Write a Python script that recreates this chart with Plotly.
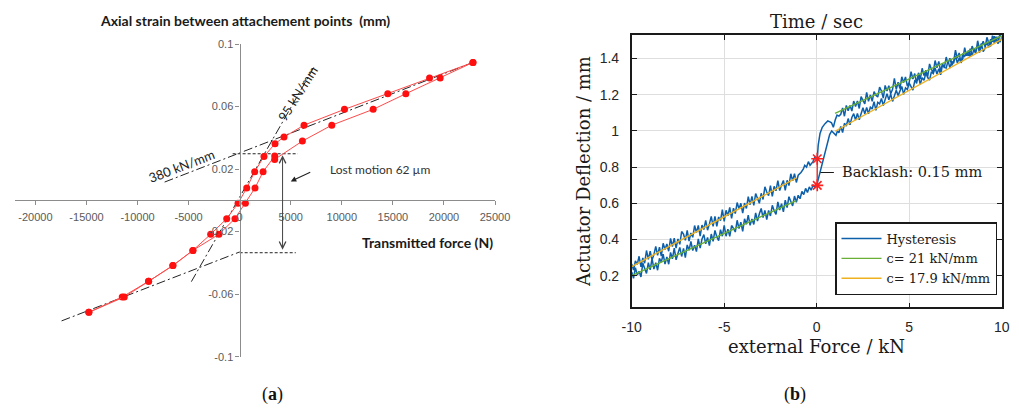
import plotly.graph_objects as go

W, H = 1019, 408

# ---------------- (a) data ----------------
branch1_force = [-14770, -11500, -8920, -6540, -4580, -2840, -1270, -160, 690, 1470, 2380, 3460, 4340, 6300, 10260, 14500, 18590, 22840]
branch1_strain = [-0.0716, -0.0618, -0.0518, -0.0417, -0.0320, -0.0217, -0.0117, -0.0019, 0.0079, 0.0183, 0.0281, 0.0362, 0.0405, 0.0481, 0.0582, 0.0682, 0.0782, 0.0882]
branch2_force = [-14770, -11300, -8920, -6540, -4580, -2030, -460, 560, 1500, 2290, 3430, 3430, 6140, 9020, 13070, 16270, 19630, 22840]
branch2_strain = [-0.0716, -0.0618, -0.0518, -0.0417, -0.0320, -0.0217, -0.0117, -0.0019, 0.0079, 0.0183, 0.0283, 0.0262, 0.0379, 0.0481, 0.0582, 0.0682, 0.0782, 0.0882]

fit380_upper_force = [-7350, 22840]
fit380_upper_strain = [0.0117, 0.0882]
fit380_lower_force = [-17440, 0]
fit380_lower_strain = [-0.0771, -0.0330]
fit95_force = [-4730, 7250]
fit95_strain = [-0.052, 0.085]
lost_top_force = [-690, 5690]
lost_top_strain = [0.0298, 0.0298]
lost_bot_force = [0, 5490]
lost_bot_strain = [-0.0335, -0.0335]
lost_arrow_force = 4200

a_xticks = [-20000, -15000, -10000, -5000, 0, 5000, 10000, 15000, 20000, 25000]
a_xticklabels = ["-20000", "-15000", "-10000", "-5000", "0", "5000", "10000", "15000", "20000", "25000"]
a_yticks = [-0.1, -0.06, -0.02, 0.02, 0.06, 0.1]
a_yticklabels = ["-0.1", "-0.06", "-0.02", "0.02", "0.06", "0.1"]

# ---------------- (b) data ----------------
# lower-left branch (force rising, around c = 21 kN/mm fit)
ll_force = [-10.0, -9.9, -9.8, -9.7, -9.6, -9.5, -9.4, -9.3, -9.2, -9.1, -9.0, -8.9, -8.8, -8.7, -8.6, -8.5,
            -8.4, -8.3, -8.2, -8.1, -8.0, -7.9, -7.8, -7.7, -7.6, -7.5, -7.4, -7.3, -7.2, -7.1, -7.0, -6.9,
            -6.8, -6.7, -6.6, -6.5, -6.4, -6.3, -6.2, -6.1, -6.0, -5.9, -5.8, -5.7, -5.6, -5.5, -5.4, -5.3,
            -5.2, -5.1, -5.0, -4.9, -4.8, -4.7, -4.6, -4.5, -4.4, -4.3, -4.2, -4.1, -4.0, -3.9, -3.8, -3.7,
            -3.6, -3.5, -3.4, -3.3, -3.2, -3.1, -3.0, -2.9, -2.8, -2.7, -2.6, -2.5, -2.4, -2.3, -2.2, -2.1,
            -2.0, -1.9, -1.8, -1.7, -1.6, -1.5, -1.4, -1.3, -1.2, -1.1, -1.0, -0.9, -0.8, -0.7, -0.6, -0.5,
            -0.4, -0.3, -0.2, -0.1, 0.0]
ll_defl = [0.220, 0.185, 0.244, 0.204, 0.224, 0.193, 0.268, 0.243, 0.212, 0.272, 0.232, 0.296, 0.236, 0.271, 0.230, 0.295,
           0.275, 0.319, 0.264, 0.304, 0.263, 0.328, 0.293, 0.352, 0.287, 0.322, 0.356, 0.306, 0.351, 0.300, 0.370, 0.340,
           0.389, 0.339, 0.368, 0.333, 0.403, 0.352, 0.402, 0.427, 0.376, 0.411, 0.366, 0.430, 0.390, 0.450, 0.414, 0.394,
           0.454, 0.418, 0.478, 0.418, 0.457, 0.417, 0.477, 0.461, 0.441, 0.506, 0.460, 0.495, 0.445, 0.514, 0.484, 0.534,
           0.478, 0.513, 0.483, 0.547, 0.502, 0.542, 0.571, 0.521, 0.561, 0.510, 0.560, 0.530, 0.589, 0.559, 0.539, 0.608,
           0.563, 0.598, 0.552, 0.617, 0.576, 0.636, 0.606, 0.585, 0.640, 0.605, 0.644, 0.625, 0.665, 0.648, 0.682, 0.660,
           0.690, 0.672, 0.700, 0.688, 0.699]
# jump through the backlash while force rises
jump_up_force = [0.1, 0.2, 0.3, 0.4, 0.5, 0.6, 0.7, 0.81, 0.95, 1.04, 1.12]
jump_up_defl = [0.740, 0.790, 0.830, 0.870, 0.910, 0.950, 0.980, 1.000, 0.985, 0.976, 1.000]
# lower-right branch (around c = 17.9 kN/mm fit)
lr_force = [1.2, 1.3, 1.4, 1.5, 1.6, 1.7, 1.8, 1.9, 2.0, 2.1, 2.2, 2.3, 2.4, 2.5, 2.6, 2.7, 2.8, 2.9, 3.0, 3.1,
            3.2, 3.3, 3.4, 3.5, 3.6, 3.7, 3.8, 3.9, 4.0, 4.1, 4.2, 4.3, 4.4, 4.5, 4.6, 4.7, 4.8, 4.9, 5.0, 5.1,
            5.2, 5.3, 5.4, 5.5, 5.6, 5.7, 5.8, 5.9, 6.0, 6.1, 6.2, 6.3, 6.4, 6.5, 6.6, 6.7, 6.8, 6.9, 7.0, 7.1,
            7.2, 7.3, 7.4, 7.5, 7.6, 7.7, 7.8, 7.9, 8.0, 8.1, 8.2, 8.3, 8.4, 8.5, 8.6, 8.7, 8.8, 8.9, 9.0, 9.1,
            9.2, 9.3, 9.4, 9.5, 9.6, 9.7, 9.8, 9.9, 10.0]
lr_defl = [0.990, 1.025, 0.991, 1.042, 1.027, 1.068, 1.034, 1.074, 1.095, 1.060, 1.096, 1.062, 1.097, 1.128, 1.094, 1.129,
           1.095, 1.131, 1.121, 1.162, 1.113, 1.158, 1.149, 1.179, 1.140, 1.176, 1.206, 1.172, 1.203, 1.163, 1.199, 1.225,
           1.195, 1.226, 1.246, 1.202, 1.238, 1.228, 1.264, 1.245, 1.225, 1.276, 1.267, 1.302, 1.258, 1.294, 1.279, 1.320,
           1.295, 1.281, 1.327, 1.317, 1.348, 1.314, 1.344, 1.310, 1.366, 1.351, 1.347, 1.387, 1.348, 1.384, 1.374, 1.415,
           1.376, 1.401, 1.377, 1.428, 1.413, 1.434, 1.415, 1.455, 1.416, 1.451, 1.442, 1.473, 1.433, 1.469, 1.495, 1.465,
           1.491, 1.462, 1.507, 1.493, 1.523, 1.494, 1.520, 1.490, 1.516]
# upper-right branch (force falling, around c = 21 kN/mm fit)
ur_force = [10.0, 9.9, 9.8, 9.7, 9.6, 9.5, 9.4, 9.3, 9.2, 9.1, 9.0, 8.9, 8.8, 8.7, 8.6, 8.5, 8.4, 8.3, 8.2, 8.1,
            8.0, 7.9, 7.8, 7.7, 7.6, 7.5, 7.4, 7.3, 7.2, 7.1, 7.0, 6.9, 6.8, 6.7, 6.6, 6.5, 6.4, 6.3, 6.2, 6.1,
            6.0, 5.9, 5.8, 5.7, 5.6, 5.5, 5.4, 5.3, 5.2, 5.1, 5.0, 4.9, 4.8, 4.7, 4.6, 4.5, 4.4, 4.3, 4.2, 4.1,
            4.0, 3.9, 3.8, 3.7, 3.6, 3.5, 3.4, 3.3, 3.2, 3.1, 3.0, 2.9, 2.8, 2.7, 2.6, 2.5, 2.4, 2.3, 2.2, 2.1,
            2.0, 1.9, 1.8, 1.7, 1.6, 1.5, 1.4, 1.3, 1.2]
ur_defl = [1.515, 1.535, 1.481, 1.521, 1.486, 1.526, 1.467, 1.487, 1.517, 1.457, 1.438, 1.483, 1.453, 1.498, 1.429, 1.444,
           1.469, 1.409, 1.445, 1.415, 1.460, 1.400, 1.376, 1.431, 1.401, 1.446, 1.382, 1.362, 1.402, 1.372, 1.408, 1.348,
           1.373, 1.328, 1.384, 1.349, 1.389, 1.324, 1.340, 1.370, 1.300, 1.335, 1.306, 1.346, 1.286, 1.321, 1.262, 1.317,
           1.287, 1.327, 1.268, 1.248, 1.298, 1.268, 1.299, 1.234, 1.269, 1.229, 1.290, 1.230, 1.205, 1.250, 1.221, 1.251,
           1.181, 1.221, 1.242, 1.187, 1.197, 1.217, 1.163, 1.198, 1.163, 1.213, 1.149, 1.169, 1.189, 1.124, 1.165, 1.135,
           1.165, 1.110, 1.141, 1.111, 1.141, 1.081, 1.127, 1.092, 1.082]
# jump back through the backlash while force falls
jump_down_force = [1.1, 1.0, 0.9, 0.8, 0.72, 0.6, 0.45, 0.3, 0.18, 0.08, 0.03, -0.1, -0.2, -0.36, -0.45, -0.55, -0.65, -0.72, -0.85, -0.92]
jump_down_defl = [1.087, 1.060, 1.020, 1.045, 1.050, 1.055, 1.040, 1.020, 0.986, 0.920, 0.846, 0.855, 0.830, 0.810, 0.830, 0.800, 0.810, 0.790, 0.770, 0.760]
# upper-left branch (around c = 17.9 kN/mm fit)
ul_force = [-1.0, -1.1, -1.2, -1.3, -1.4, -1.5, -1.6, -1.7, -1.8, -1.9, -2.0, -2.1, -2.2, -2.3, -2.4, -2.5,
            -2.6, -2.7, -2.8, -2.9, -3.0, -3.1, -3.2, -3.3, -3.4, -3.5, -3.6, -3.7, -3.8, -3.9, -4.0, -4.1,
            -4.2, -4.3, -4.4, -4.5, -4.6, -4.7, -4.8, -4.9, -5.0, -5.1, -5.2, -5.3, -5.4, -5.5, -5.6, -5.7,
            -5.8, -5.9, -6.0, -6.1, -6.2, -6.3, -6.4, -6.5, -6.6, -6.7, -6.8, -6.9, -7.0, -7.1, -7.2, -7.3,
            -7.4, -7.5, -7.6, -7.7, -7.8, -7.9, -8.0, -8.1, -8.2, -8.3, -8.4, -8.5, -8.6, -8.7, -8.8, -8.9,
            -9.0, -9.1, -9.2, -9.3, -9.4, -9.5, -9.6, -9.7, -9.8, -9.9, -10.0]
ul_defl = [0.755, 0.715, 0.764, 0.724, 0.763, 0.698, 0.727, 0.672, 0.726, 0.701, 0.670, 0.725, 0.669, 0.694, 0.638, 0.698,
           0.642, 0.662, 0.691, 0.621, 0.655, 0.600, 0.629, 0.654, 0.588, 0.638, 0.592, 0.637, 0.571, 0.601, 0.545, 0.600,
           0.569, 0.604, 0.543, 0.573, 0.517, 0.577, 0.531, 0.561, 0.500, 0.565, 0.504, 0.524, 0.473, 0.528, 0.472, 0.527,
           0.486, 0.451, 0.505, 0.455, 0.479, 0.419, 0.478, 0.438, 0.477, 0.412, 0.436, 0.391, 0.450, 0.395, 0.429, 0.444,
           0.373, 0.403, 0.352, 0.407, 0.361, 0.406, 0.335, 0.375, 0.344, 0.379, 0.308, 0.358, 0.312, 0.362, 0.316, 0.286,
           0.335, 0.290, 0.339, 0.269, 0.298, 0.248, 0.307, 0.262, 0.281, 0.231, 0.265]

fit21_force = [-10, -1.1, None, 0.99, 10]
fit21_defl = [0.200, 0.615, None, 1.097, 1.525]
fit179_force = [-10, -1.1, None, 0.99, 10]
fit179_defl = [0.250, 0.740, None, 0.998, 1.506]
backlash_force = [0.03, 0.03]
backlash_defl = [0.846, 0.699]

b_xticks = [-10, -5, 0, 5, 10]
b_xticklabels = ["-10", "-5", "0", "5", "10"]
b_yticks = [0.2, 0.4, 0.6, 0.8, 1.0, 1.2, 1.4]
b_yticklabels = ["0.2", "0.4", "0.6", "0.8", "1", "1.2", "1.4"]

hyst_force = ll_force + jump_up_force + lr_force + ur_force + jump_down_force + ul_force
hyst_defl = ll_defl + jump_up_defl + lr_defl + ur_defl + jump_down_defl + ul_defl

# ---------------- layout geometry ----------------
def px_x(p):
    return p / W

def px_y(p):
    return 1 - p / H

a_xrange = [-22000, 25000]
a_yrange = [-0.1, 0.1]
a_xdom = [px_x(15), px_x(495)]
a_ydom = [px_y(356.7), px_y(44)]
b_xrange = [-10, 10]
b_yrange = [0.025, 1.53]
b_xdom = [px_x(631.7), px_x(1001.7)]
b_ydom = [px_y(307.3), px_y(35)]

a_xaxis_pos = a_ydom[0] + (0 - a_yrange[0]) / (a_yrange[1] - a_yrange[0]) * (a_ydom[1] - a_ydom[0])
a_yaxis_pos = a_xdom[0] + (0 - a_xrange[0]) / (a_xrange[1] - a_xrange[0]) * (a_xdom[1] - a_xdom[0])

RED_LINE = "#ff4a4a"
RED = "#ff1010"
DASHDOT = "9px,3px,2px,3px"

fig = go.Figure()

# (a) traces
for fx, fy in [(fit380_upper_force, fit380_upper_strain), (fit380_lower_force, fit380_lower_strain),
               (fit95_force, fit95_strain)]:
    fig.add_trace(go.Scatter(x=fx, y=fy, mode="lines", line=dict(color="#222222", width=1, dash=DASHDOT),
                             xaxis="x", yaxis="y", showlegend=False))
for fx, fy in [(lost_top_force, lost_top_strain), (lost_bot_force, lost_bot_strain)]:
    fig.add_trace(go.Scatter(x=fx, y=fy, mode="lines", line=dict(color="#222222", width=1, dash="3px,2px"),
                             xaxis="x", yaxis="y", showlegend=False))
for fx, fy in [(branch1_force, branch1_strain), (branch2_force, branch2_strain)]:
    fig.add_trace(go.Scatter(x=fx, y=fy, mode="lines+markers",
                             line=dict(color=RED_LINE, width=1),
                             marker=dict(color=RED, size=7, line=dict(width=0)),
                             xaxis="x", yaxis="y", showlegend=False, cliponaxis=False))

# (b) traces
fig.add_trace(go.Scatter(x=hyst_force, y=hyst_defl, mode="lines", name="Hysteresis",
                         line=dict(color="#0c5fa8", width=1.5), xaxis="x2", yaxis="y2"))
fig.add_trace(go.Scatter(x=fit21_force, y=fit21_defl, mode="lines", name="c= 21 kN/mm",
                         line=dict(color="#6aaf35", width=1.4), xaxis="x2", yaxis="y2"))
fig.add_trace(go.Scatter(x=fit179_force, y=fit179_defl, mode="lines", name="c= 17.9 kN/mm",
                         line=dict(color="#edb120", width=1.4), xaxis="x2", yaxis="y2"))
fig.add_trace(go.Scatter(x=backlash_force, y=backlash_defl, mode="lines+markers",
                         line=dict(color="#ff2020", width=1.3),
                         marker=dict(symbol="asterisk", size=10, color="#ff2020", line=dict(color="#ff2020", width=1.6)),
                         xaxis="x2", yaxis="y2", showlegend=False, cliponaxis=False))

a_tickfont = dict(family="Liberation Sans Narrow, Liberation Sans, Arial", size=11, color="#5a5a5a")
b_tickfont = dict(family="Liberation Sans, Arial", size=14, color="#262626")
serif = "Liberation Serif, Times New Roman, serif"
latex = "DejaVu Serif, serif"

fig.update_layout(
    width=W, height=H,
    margin=dict(l=0, r=0, t=0, b=0, autoexpand=False),
    paper_bgcolor="white", plot_bgcolor="rgba(0,0,0,0)",
    xaxis=dict(domain=a_xdom, range=a_xrange, anchor="free", position=a_xaxis_pos, automargin=False,
               showline=True, linecolor="#8c8c8c", linewidth=1.2, showgrid=False, zeroline=False,
               tickvals=a_xticks, ticktext=a_xticklabels, ticks="outside", ticklen=4, tickcolor="#8c8c8c",
               tickfont=a_tickfont, ticklabelstandoff=2),
    yaxis=dict(domain=a_ydom, range=a_yrange, anchor="free", position=a_yaxis_pos, automargin=False,
               showline=True, linecolor="#8c8c8c", linewidth=1.4, showgrid=False, zeroline=False,
               tickvals=a_yticks, ticktext=a_yticklabels, ticks="outside", ticklen=4, tickcolor="#8c8c8c",
               tickfont=a_tickfont),
    xaxis2=dict(domain=b_xdom, range=b_xrange, anchor="y2", automargin=False,
                showline=True, linecolor="#1a1a1a", linewidth=1.6, mirror="allticks",
                showgrid=True, gridcolor="#dedede", gridwidth=1, zeroline=False,
                tickvals=b_xticks, ticktext=b_xticklabels, ticks="inside", ticklen=5, tickcolor="#1a1a1a",
                tickfont=b_tickfont, ticklabelstandoff=6),
    yaxis2=dict(domain=b_ydom, range=b_yrange, anchor="x2", automargin=False,
                showline=True, linecolor="#1a1a1a", linewidth=1.6, mirror="allticks",
                showgrid=True, gridcolor="#dedede", gridwidth=1, zeroline=False,
                tickvals=b_yticks, ticktext=b_yticklabels, ticks="inside", ticklen=5, tickcolor="#1a1a1a",
                tickfont=b_tickfont, ticklabelstandoff=8),
    legend=dict(x=px_x(997), y=px_y(295), xanchor="right", yanchor="bottom",
                bgcolor="white", bordercolor="#1a1a1a", borderwidth=1.5,
                font=dict(family=latex, size=13, color="#1a1a1a"),
                itemwidth=40, tracegroupgap=0),
)

ann = []

def text_ann(text, x, y, xanchor="center", yanchor="middle", xref="paper", yref="paper", **kw):
    d = dict(text=text, x=x, y=y, xref=xref, yref=yref, xanchor=xanchor, yanchor=yanchor, showarrow=False)
    d.update(kw)
    return d

lato_b = dict(family="Lato, Open Sans, sans-serif", size=14, color="#1a1a1a")
ann.append(text_ann("<b>Axial strain between attachement points\u00a0 (mm)</b>", px_x(98), px_y(20),
                    xanchor="left", font=lato_b))
ann.append(text_ann("<b>Transmitted force (N)</b>", px_x(495), px_y(242), xanchor="right", font=lato_b))
lab_font = dict(family="Lato, Open Sans, sans-serif", size=13, color="#222222")
ann.append(text_ann("380 kN/mm", -5680, 0.0217, xref="x", yref="y", textangle=-21, font=lab_font))
ann.append(text_ann("95 kN/mm", 5730, 0.0684, xref="x", yref="y", textangle=-58, font=lab_font))
ann.append(text_ann("Lost motion 62 \u00b5m", 8620, 0.0198, xanchor="left", xref="x", yref="y",
                    font=dict(family="Lato, Open Sans, sans-serif", size=12, color="#333333")))
ann.append(dict(text="", x=5000, y=0.0121, xref="x", yref="y", ax=21, ay=-10,
                showarrow=True, arrowhead=2, arrowsize=1, arrowwidth=1.1, arrowcolor="#222222"))
ann.append(dict(text="", x=lost_arrow_force, y=lost_top_strain[0] - 0.001, ax=lost_arrow_force,
                ay=lost_bot_strain[0] + 0.001, xref="x", yref="y", axref="x", ayref="y",
                showarrow=True, arrowside="end+start", arrowhead=5, startarrowhead=5,
                arrowsize=1.3, startarrowsize=1.3, arrowwidth=1, arrowcolor="#444444"))
ann.append(text_ann("(<b>a</b>)", px_x(272), px_y(394), font=dict(family=serif, size=18, color="#111111")))

# (b) annotations
ann.append(text_ann("Time / sec", px_x(816.7), px_y(21.7), font=dict(family=latex, size=18, color="#1a1a1a")))
ann.append(text_ann("Actuator Deflection / mm", px_x(583), px_y(172), textangle=-90,
                    font=dict(family=latex, size=18, color="#1a1a1a")))
ann.append(text_ann("external Force / kN", px_x(816.7), px_y(346.7), font=dict(family=latex, size=18, color="#1a1a1a")))
ann.append(text_ann("Backlash: 0.15 mm", px_x(840), px_y(171.7), xanchor="left",
                    font=dict(family=latex, size=14.5, color="#1a1a1a")))
ann.append(dict(text="", x=0.2, y=0.77, xref="x2", yref="y2", ax=15, ay=0,
                showarrow=True, arrowhead=0, arrowwidth=1.2, arrowcolor="#1a1a1a"))
ann.append(text_ann("(<b>b</b>)", px_x(795), px_y(394), font=dict(family=serif, size=18, color="#111111")))

fig.update_layout(annotations=ann)
fig.write_html("out.html", config={"displayModeBar": False},
               post_script="document.body.style.margin='0';document.body.style.padding='0';")
